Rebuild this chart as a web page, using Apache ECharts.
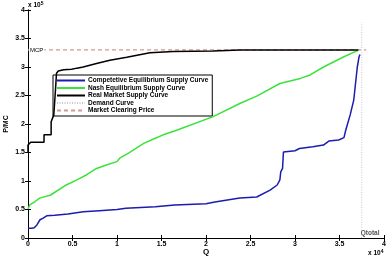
<!DOCTYPE html>
<html>
<head>
<meta charset="utf-8">
<script src="https://cdn.jsdelivr.net/npm/echarts@6/dist/echarts.min.js"></script>
<style>
  html, body { margin: 0; padding: 0; background: #fff; }
  #chart { width: 387px; height: 258px; }
</style>
</head>
<body>
<div id="chart"></div>
<script>
// Q in units of 1e4, price in units of 1e5
var seriesNames = ['Competetive Equilibrium Supply Curve', 'Nash Equilibrium Supply Curve',
  'Real Market Supply Curve', 'Demand Curve', 'Market Clearing Price'];

var competitive = [[0, 0.17], [0.04, 0.17], [0.07, 0.18], [0.1, 0.23], [0.135, 0.32], [0.17, 0.35],
  [0.21, 0.39], [0.3, 0.4], [0.45, 0.42], [0.62, 0.46], [0.8, 0.48], [1.0, 0.5], [1.1, 0.52],
  [1.43, 0.55], [1.65, 0.58], [2.0, 0.6], [2.1, 0.63], [2.38, 0.7], [2.57, 0.72], [2.72, 0.84],
  [2.8, 0.93], [2.83, 1.02], [2.84, 1.16], [2.86, 1.22], [2.87, 1.51], [3.0, 1.53], [3.05, 1.57],
  [3.2, 1.6], [3.32, 1.63], [3.38, 1.7], [3.49, 1.72], [3.55, 1.76], [3.57, 1.89], [3.62, 2.16],
  [3.66, 2.42], [3.68, 2.71], [3.70, 3.0], [3.72, 3.18], [3.73, 3.22]];

var nash = [[0, 0.51], [0.02, 0.58], [0.08, 0.64], [0.13, 0.7], [0.25, 0.75], [0.43, 0.93],
  [0.55, 1.02], [0.66, 1.11], [0.77, 1.22], [0.88, 1.28], [1.0, 1.34], [1.03, 1.4], [1.13, 1.49],
  [1.3, 1.66], [1.43, 1.75], [1.52, 1.81], [1.67, 1.89], [2.08, 2.13], [2.38, 2.36], [2.57, 2.49],
  [2.83, 2.71], [3.06, 2.8], [3.17, 2.86], [3.32, 3.0], [3.55, 3.18], [3.72, 3.3]];

var realMarket = [[0, 1.51], [0, 1.63], [0.03, 1.68], [0.18, 1.68], [0.18, 1.81], [0.26, 1.81],
  [0.26, 2.04], [0.28, 2.04], [0.29, 2.16], [0.31, 2.63], [0.32, 2.89], [0.34, 2.93], [0.4, 2.95],
  [0.49, 2.96], [0.55, 2.98], [0.62, 3.0], [0.77, 3.06], [0.92, 3.12], [1.11, 3.17], [1.37, 3.25],
  [1.63, 3.27], [2.08, 3.28], [2.38, 3.3], [3.71, 3.3]];

var demand = [[3.75, 0], [3.75, 3.78]];
var mcp = [[0, 3.3], [3.8, 3.3]];

var tickInterval = 0.5;
var axisMax = 4;

var font = 'Liberation Sans, Arial, sans-serif';
var lbl = { color: '#000', fontSize: 7, fontWeight: 'bold', fontFamily: font };

var chart = echarts.init(document.getElementById('chart'));

var option = {
  backgroundColor: '#fff',
  animation: false,
  grid: { left: 28, right: 3, top: 10, bottom: 20, containLabel: false, outerBoundsMode: 'none' },
  legend: {
    data: seriesNames,
    orient: 'vertical',
    left: 53,
    top: 75,
    itemWidth: 28,
    itemHeight: 7,
    itemGap: 0.5,
    padding: [2, 4, 2, 3],
    borderColor: '#000',
    borderWidth: 1,
    backgroundColor: '#fff',
    itemStyle: { opacity: 0 },
    textStyle: { color: '#000', fontSize: 6.5, fontWeight: 'bold', fontFamily: font, padding: [0, 0, 0, -2] }
  },
  xAxis: [{
    type: 'value', min: 0, max: axisMax, interval: tickInterval,
    name: 'Q', nameLocation: 'middle', nameGap: 10, nameMoveOverlap: false,
    nameTextStyle: { color: '#000', fontSize: 8, fontWeight: 'bold', fontFamily: font },
    axisLine: { lineStyle: { color: '#000', width: 1 } },
    axisTick: { inside: true, length: 3, lineStyle: { color: '#000' } },
    axisLabel: Object.assign({ margin: 3, showMinLabel: true, showMaxLabel: true }, lbl),
    splitLine: { show: false }
  }, {
    type: 'value', min: 0, max: axisMax, interval: tickInterval, position: 'top',
    axisLine: { lineStyle: { color: '#000', width: 1 } },
    axisTick: { inside: true, length: 3, lineStyle: { color: '#000' } },
    axisLabel: { show: false }, splitLine: { show: false }
  }],
  yAxis: [{
    type: 'value', min: 0, max: axisMax, interval: tickInterval,
    name: 'P/MC', nameLocation: 'middle', nameGap: 18, nameRotate: 90, nameMoveOverlap: false,
    nameTextStyle: { color: '#000', fontSize: 7, fontWeight: 'bold', fontFamily: font },
    axisLine: { show: true, lineStyle: { color: '#000', width: 1 } },
    axisTick: { show: true, inside: true, length: 3, lineStyle: { color: '#000' } },
    axisLabel: Object.assign({ margin: 3, showMinLabel: true, showMaxLabel: true }, lbl),
    splitLine: { show: false }
  }, {
    type: 'value', min: 0, max: axisMax, interval: tickInterval, position: 'right',
    axisLine: { show: true, lineStyle: { color: '#000', width: 1 } },
    axisTick: { show: true, inside: true, length: 3, lineStyle: { color: '#000' } },
    axisLabel: { show: false }, splitLine: { show: false }
  }],
  graphic: [{
    type: 'text', left: 28, top: 1,
    style: {
      text: '{a|x 10}{b|5}',
      rich: { a: { fontSize: 6.5, fontWeight: 'bold', fontFamily: font, fill: '#000' },
              b: { fontSize: 5, fontWeight: 'bold', fontFamily: font, fill: '#000', verticalAlign: 'top', padding: [0, 0, 3, 0] } }
    }
  }, {
    type: 'text', left: 368, top: 249,
    style: {
      text: '{a|x 10}{b|4}',
      rich: { a: { fontSize: 6.5, fontWeight: 'bold', fontFamily: font, fill: '#000' },
              b: { fontSize: 5, fontWeight: 'bold', fontFamily: font, fill: '#000', verticalAlign: 'top', padding: [0, 0, 3, 0] } }
    }
  }],
  series: [{
    name: seriesNames[0], type: 'line', data: competitive, showSymbol: false, symbol: 'none',
    lineStyle: { color: '#1c1cb0', width: 1.5 }, itemStyle: { color: '#1c1cb0' }, z: 5
  }, {
    name: seriesNames[1], type: 'line', data: nash, showSymbol: false, symbol: 'none',
    lineStyle: { color: '#3be23b', width: 1.5 }, itemStyle: { color: '#3be23b' }, z: 4
  }, {
    name: seriesNames[2], type: 'line', data: realMarket, showSymbol: false, symbol: 'none',
    lineStyle: { color: '#000', width: 1.5 }, itemStyle: { color: '#000' }, z: 6
  }, {
    name: seriesNames[3], type: 'line', symbol: 'none',
    data: [{ value: demand[0], symbol: 'circle', symbolSize: 0.1,
             label: { show: true, formatter: 'Qtotal', position: [-1, -8], color: '#555', fontSize: 6.5, fontWeight: 'bold', fontFamily: font } },
           demand[1]],
    lineStyle: { color: '#c9c3d3', width: 1, type: [1, 1.5] }, itemStyle: { color: '#c9c3d3' }, z: 2
  }, {
    name: seriesNames[4], type: 'line', symbol: 'none',
    data: [{ value: mcp[0], symbol: 'circle', symbolSize: 0.1,
             label: { show: true, formatter: 'MCP', position: [1, -3], color: '#000', fontSize: 6, fontFamily: font,
                      backgroundColor: '#fff', padding: [0, 1] } },
           mcp[1]],
    lineStyle: { color: '#d49a94', width: 1.2, type: [4, 3] }, itemStyle: { color: '#d49a94' }, z: 3
  }]
};

chart.setOption(option);
</script>
</body>
</html>
